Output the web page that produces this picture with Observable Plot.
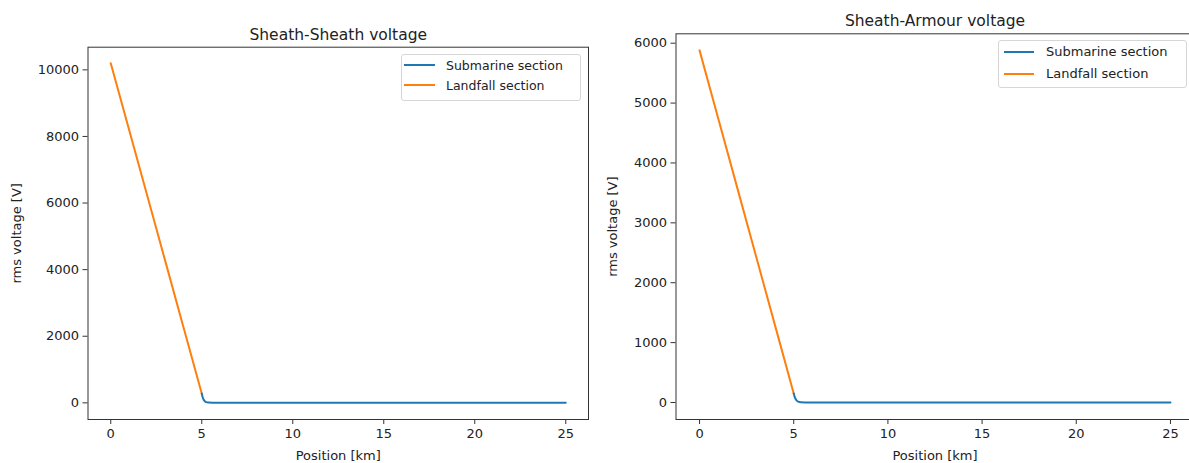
<!DOCTYPE html>
<html><head><meta charset="utf-8">
<script src="https://cdn.jsdelivr.net/npm/d3@7"></script>
<script src="https://cdn.jsdelivr.net/npm/@observablehq/plot@0.6"></script>
<style>
html,body{margin:0;padding:0;background:#fff;overflow:hidden;}
#wrap{position:relative;width:1189px;height:463px;overflow:hidden;font-family:"DejaVu Sans",sans-serif;color:#222;}
.panel{position:absolute;top:0;}
.panel svg{max-width:none !important;}
.legend{position:absolute;border:1px solid #d6d6d6;border-radius:3px;background:rgba(255,255,255,0.85);box-sizing:border-box;}
.item{display:flex;align-items:center;white-space:nowrap;}
.sw{height:2px;flex:none;}
</style></head><body><div id="wrap"></div>
<script>
// ---- data ----
const seriesNames = ["Submarine section", "Landfall section"];
const seriesColors = ["#1f77b4", "#ff7f0e"];
const xTicks = [0, 5, 10, 15, 20, 25];
const landfallPos = [0, 1, 2, 3, 4, 5];
const submarinePos = [5, 5.05, 5.1, 5.15, 5.2, 5.3, 5.4, 5.6, 6, 8, 10, 15, 20, 25];
const ssLandfall = [10200, 8216, 6232, 4248, 2264, 280];
const ssSubmarine = [280, 170, 100, 60, 35, 15, 7, 2, 0, 0, 0, 0, 0, 0];
const ssTicks = [0, 2000, 4000, 6000, 8000, 10000];
const saLandfall = [5880, 4734, 3588, 2442, 1296, 150];
const saSubmarine = [150, 95, 58, 35, 20, 9, 4, 1, 0, 0, 0, 0, 0, 0];
const saTicks = [0, 1000, 2000, 3000, 4000, 5000, 6000];
const titles = ["Sheath-Sheath voltage", "Sheath-Armour voltage"];
const xLabel = "Position [km]";
const yLabel = "rms voltage [V]";

const panels = [
  {title: titles[0], land: ssLandfall, sub: ssSubmarine, yTicks: ssTicks, yDomain: [-500, 10680],
   left: 0, width: 600, mL: 87.5, mR: 12, mT: 46.7, titleDy: -7, yLabOff: 76,
   lg: {left: 401, top: 54, w: 180, h: 47, fs: 12.5, ih: 20.3, pt: 0, swL: 2, swW: 31, gap: 11}},
  {title: titles[1], land: saLandfall, sub: saSubmarine, yTicks: saTicks, yDomain: [-284, 6157],
   left: 600, width: 600, mL: 75.5, mR: 6.5, mT: 33.3, titleDy: -8, yLabOff: 68.5,
   lg: {left: 998, top: 40, w: 189, h: 48, fs: 13, ih: 21.7, pt: 0, swL: 5, swW: 30, gap: 12}}
];

const wrap = document.getElementById("wrap");

panels.forEach(cfg => {
  const landRows = landfallPos.map((x, i) => ({x, v: cfg.land[i], s: seriesNames[1]}));
  const subRows = submarinePos.map((x, i) => ({x, v: cfg.sub[i], s: seriesNames[0]}));
  const plot = Plot.plot({
    width: cfg.width, height: 463,
    marginLeft: cfg.mL, marginRight: cfg.mR, marginTop: cfg.mT, marginBottom: 44,
    style: {fontFamily: "DejaVu Sans", fontSize: "13px", color: "#222", background: "transparent", overflow: "visible", maxWidth: "none"},
    x: {domain: [-1.25, 26.25]},
    y: {domain: cfg.yDomain},
    color: {domain: seriesNames, range: seriesColors},
    marks: [
      Plot.axisX({ticks: xTicks, tickFormat: d3.format("d"), tickSize: 5, tickPadding: 4, label: xLabel, labelAnchor: "center", labelArrow: "none", labelOffset: 40, stroke: "#333"}),
      Plot.axisY({ticks: cfg.yTicks, tickFormat: d3.format("d"), tickSize: 5, tickPadding: 4, label: yLabel, labelAnchor: "center", labelArrow: "none", labelOffset: cfg.yLabOff, stroke: "#333"}),
      Plot.line(landRows, {x: "x", y: "v", stroke: "s", strokeWidth: 2}),
      Plot.line(subRows, {x: "x", y: "v", stroke: "s", strokeWidth: 2, curve: "monotone-x"}),
      Plot.frame({stroke: "#333", strokeWidth: 1}),
      Plot.text([cfg.title], {text: d => d, frameAnchor: "top", lineAnchor: "bottom", dy: cfg.titleDy, fontSize: 15.5, fill: "#222"})
    ]
  });
  const div = document.createElement("div");
  div.className = "panel";
  div.style.left = cfg.left + "px";
  div.style.width = cfg.width + "px";
  div.appendChild(plot);
  wrap.appendChild(div);

  const lg = document.createElement("div");
  lg.className = "legend";
  Object.assign(lg.style, {left: cfg.lg.left + "px", top: cfg.lg.top + "px", width: cfg.lg.w + "px", height: cfg.lg.h + "px", fontSize: cfg.lg.fs + "px", paddingTop: cfg.lg.pt + "px"});
  seriesNames.forEach((name, i) => {
    const it = document.createElement("div");
    it.className = "item";
    it.style.height = cfg.lg.ih + "px";
    const sw = document.createElement("span");
    sw.className = "sw";
    Object.assign(sw.style, {width: cfg.lg.swW + "px", marginLeft: cfg.lg.swL + "px", marginRight: cfg.lg.gap + "px", background: seriesColors[i]});
    const tx = document.createElement("span");
    tx.textContent = name;
    it.appendChild(sw); it.appendChild(tx);
    lg.appendChild(it);
  });
  wrap.appendChild(lg);
});
</script></body></html>
